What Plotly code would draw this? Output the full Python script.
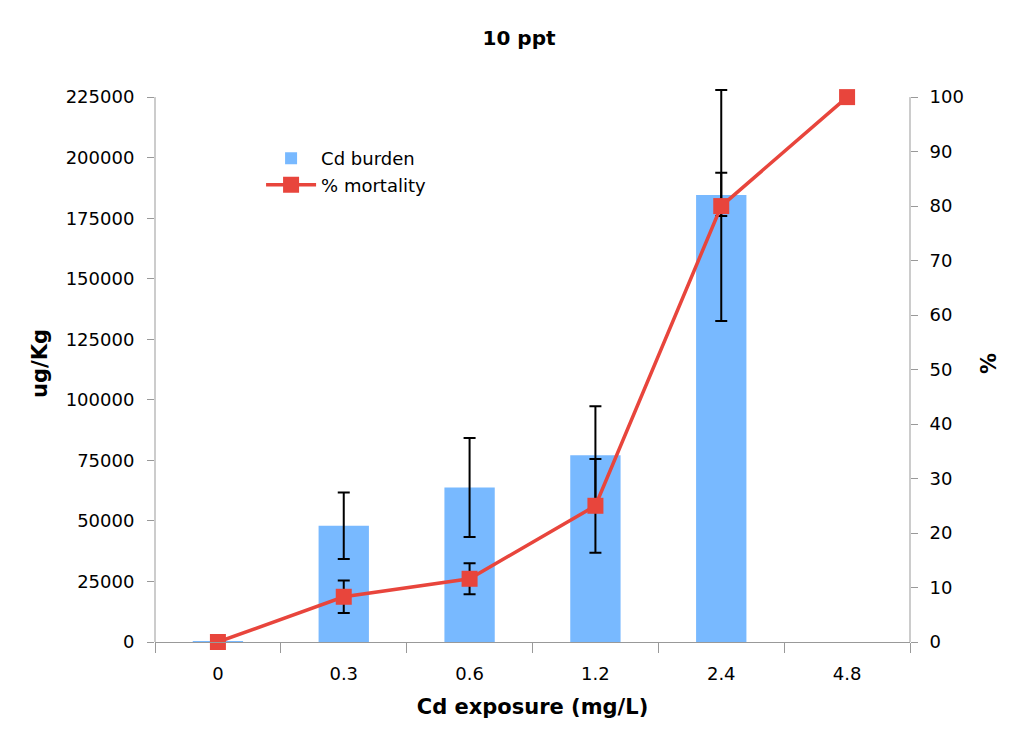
import plotly.graph_objects as go

categories = ["0", "0.3", "0.6", "1.2", "2.4", "4.8"]
cd_burden = [400, 48000, 63800, 77100, 184600, None]
cd_err_plus = [0, 13700, 20400, 20200, 43300, 0]
cd_err_minus = [0, 13700, 20400, 20200, 52000, 0]
mortality = [0, 8.3, 11.6, 25, 80, 100]
mort_err_plus = [0, 3, 2.85, 8.6, 6.1, 0]
mort_err_minus = [0, 3, 2.85, 8.6, 1.8, 0]

Y1_MAX = 225000
Y2_MAX = 100
HEADROOM = 230000 / 225000  # extra room so the top error cap is not clipped

FONT = "DejaVu Sans"
AX = "#999999"
fig = go.Figure()
fig.add_trace(go.Bar(
    x=categories, y=cd_burden, name="Cd burden",
    marker=dict(color="#78B9FF", line=dict(width=0)),
    width=0.4, cliponaxis=False,
    error_y=dict(type="data", symmetric=False, array=cd_err_plus, arrayminus=cd_err_minus,
                 color="black", thickness=2, width=6),
    yaxis="y",
))
fig.add_trace(go.Scatter(
    x=categories, y=mortality, name="% mortality", mode="lines+markers",
    line=dict(color="#E8453C", width=3.5),
    marker=dict(symbol="square", size=16, color="#E8453C"),
    cliponaxis=False,
    error_y=dict(type="data", symmetric=False, array=mort_err_plus, arrayminus=mort_err_minus,
                 color="black", thickness=2, width=6),
    yaxis="y2",
))

# axis lines limited to the tick range
fig.add_shape(type="line", xref="paper", yref="y", x0=0, x1=0, y0=0, y1=Y1_MAX,
              line=dict(color=AX, width=1))
fig.add_shape(type="line", xref="paper", yref="y", x0=1, x1=1, y0=0, y1=Y1_MAX,
              line=dict(color=AX, width=1))

fig.update_layout(
    width=1019, height=737,
    paper_bgcolor="white", plot_bgcolor="white",
    margin=dict(l=147, r=117, t=77, b=103),
    font=dict(family=FONT, size=18, color="black"),
    title=dict(text="<b>10 ppt</b>", x=0.5015, xref="container", xanchor="center",
               y=0.959, yref="container", yanchor="middle",
               font=dict(family=FONT, size=20)),
    showlegend=True,
    legend=dict(x=0.1405, y=0.901, xanchor="left", yanchor="top", bgcolor="rgba(0,0,0,0)",
                font=dict(family=FONT, size=18), itemwidth=50),
    xaxis=dict(type="category", showgrid=False, showline=True, linecolor=AX, linewidth=1,
               ticks="outside", tickson="boundaries", ticklen=10, tickcolor=AX,
               ticklabelstandoff=15,
               title=dict(text="<b>Cd exposure (mg/L)</b>", font=dict(family=FONT, size=21), standoff=16),
               tickfont=dict(family=FONT, size=18)),
    yaxis=dict(range=[0, Y1_MAX * HEADROOM], tickmode="linear", tick0=0, dtick=25000,
               showgrid=False, showline=False,
               ticks="outside", ticklen=7, tickcolor=AX, zeroline=False,
               tickformat="d", ticklabelstandoff=9,
               title=dict(text="<b>ug/Kg</b>", font=dict(family=FONT, size=21), standoff=12),
               tickfont=dict(family=FONT, size=18)),
    yaxis2=dict(range=[0, Y2_MAX * HEADROOM], tickmode="linear", tick0=0, dtick=10,
                overlaying="y", side="right", showgrid=False,
                showline=False, ticks="outside", ticklen=7, tickcolor=AX,
                zeroline=False, ticklabelstandoff=8,
                title=dict(text="<b>%</b>", font=dict(family=FONT, size=21), standoff=18),
                tickfont=dict(family=FONT, size=18)),
)

fig.write_html("out.html")
